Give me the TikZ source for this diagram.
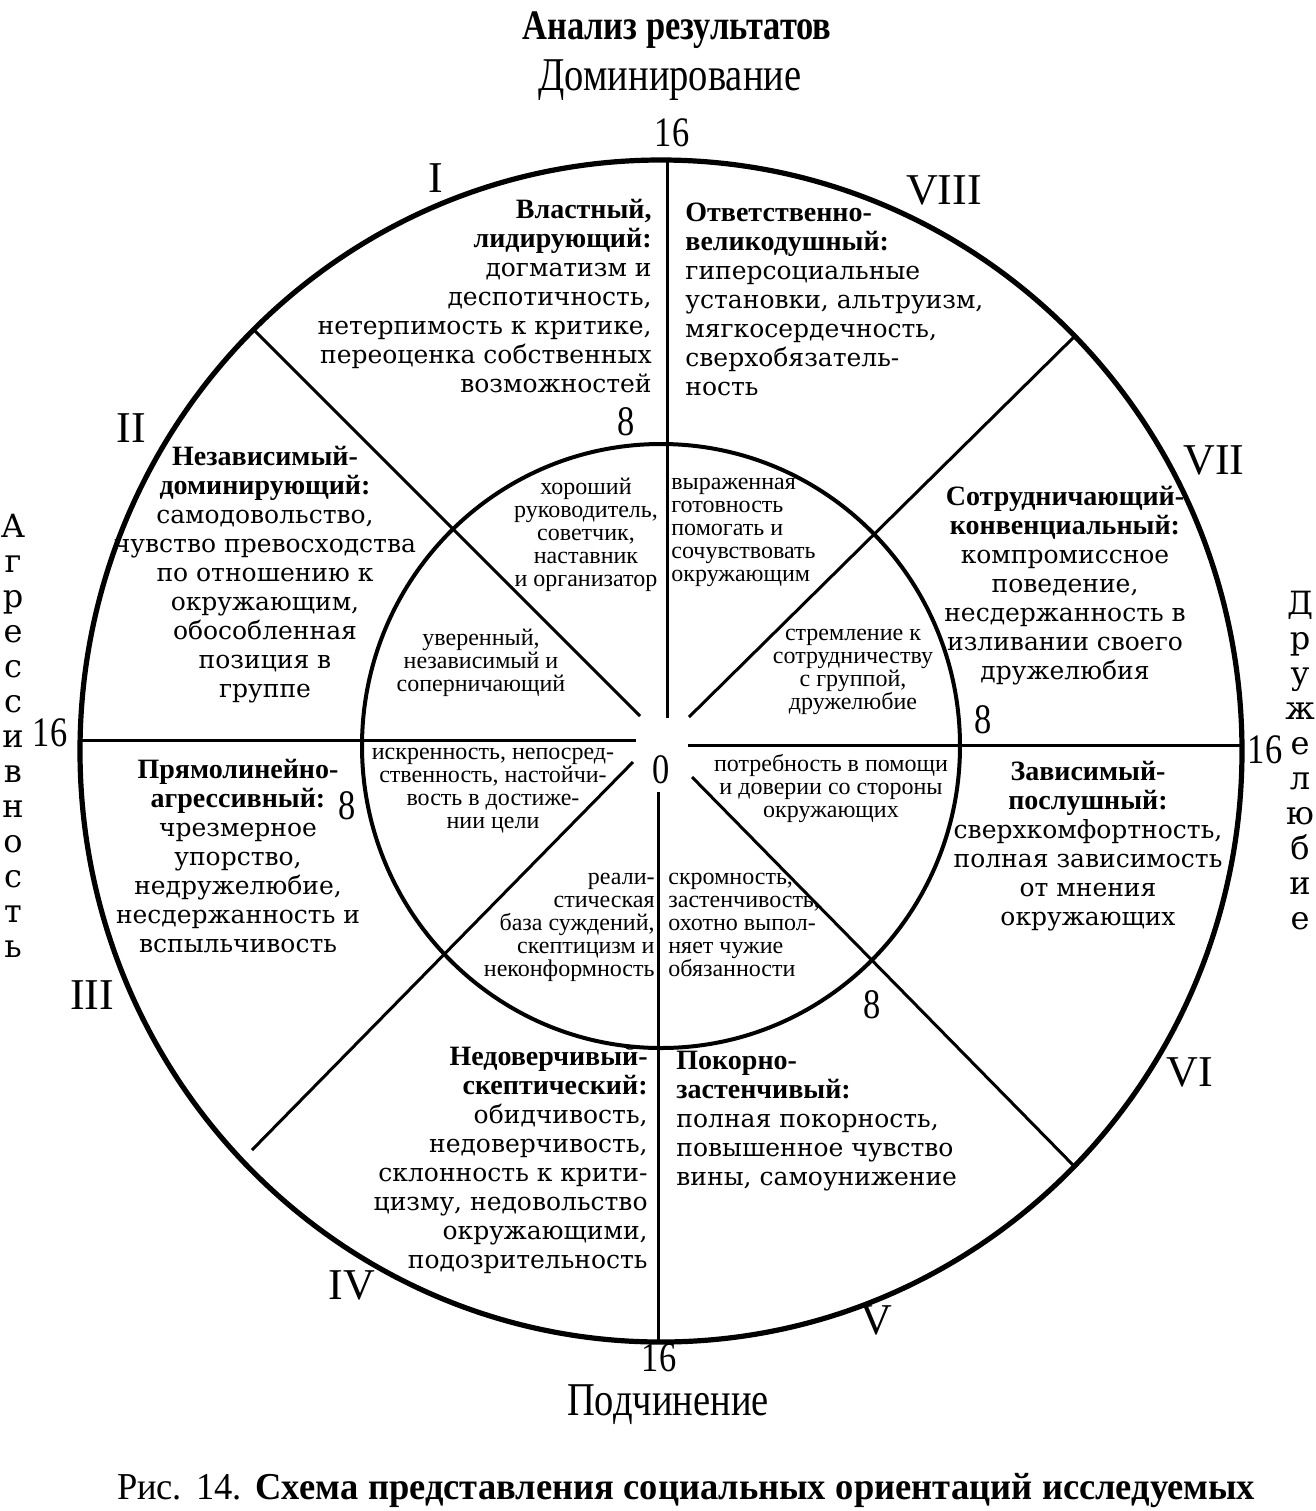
\documentclass[tikz,border=0pt]{standalone}
\usepackage{fontspec}
\setmainfont{Liberation Serif}
\newfontfamily\bodyfont{DejaVu Serif}
\newfontfamily\condfont[FakeStretch=0.82]{Liberation Serif}
\newfontfamily\capfont[FakeStretch=0.96]{Liberation Serif}
\usetikzlibrary{positioning}

\newcommand{\hd}[1]{{\rmfamily\bfseries\fontsize{14}{14.5}\selectfont #1}}

\tikzset{
  rim/.style={line width=2.6pt},
  ring/.style={line width=2pt},
  spoke/.style={line width=1.5pt},
  roman/.style={font=\fontsize{22}{22}\selectfont},
  scorelbl/.style={font=\condfont\fontsize{21}{21}\selectfont, inner sep=1pt},
  outertxt/.style={font=\bodyfont\fontsize{12.5}{14.5}\selectfont, inner sep=0pt},
  innertxt/.style={font=\fontsize{12}{11.5}\selectfont, inner sep=0pt},
  axisword/.style={font=\bodyfont\fontsize{16}{17.5}\selectfont, align=center, inner sep=0pt},
}

\begin{document}
\begin{tikzpicture}[x=0.5pt, y=-0.5pt]
\useasboundingbox (0,0) rectangle (1316,1511);

% titles
\node (title) at (677,30) [font=\condfont\bfseries\fontsize{21}{21}\selectfont] {Анализ результатов};
\node (dom) at (670,80) [font=\condfont\fontsize{23.5}{23.5}\selectfont, inner sep=1pt] {Доминирование};
\node (sub) at (668,1405) [font=\condfont\fontsize{23.5}{23.5}\selectfont, inner sep=0pt] {Подчинение};
\node (caption) at (686,1490) [font=\capfont\fontsize{19}{19}\selectfont]
  {\makebox[569pt][s]{Рис. 14. \bfseries Схема представления социальных ориентаций исследуемых}};

% circles
\draw [rim] (661,751) ellipse [x radius=581, y radius=591];
\draw [ring] (661,746) ellipse [x radius=299, y radius=302];

% spokes
\coordinate (nOut) at (667,160);  \coordinate (nIn) at (667,718);
\coordinate (sOut) at (658,1342); \coordinate (sIn) at (658,792);
\coordinate (wOut) at (80,740);   \coordinate (wIn) at (636,740);
\coordinate (eOut) at (1242,745); \coordinate (eIn) at (688,745);
\coordinate (nwOut) at (254,330); \coordinate (nwIn) at (640,716);
\coordinate (neOut) at (1076,335); \coordinate (neIn) at (689,717);
\coordinate (swOut) at (252,1150); \coordinate (swIn) at (633,762);
\coordinate (seOut) at (1074,1166); \coordinate (seIn) at (692,777);
\draw [spoke] (nIn) -- (nOut);
\draw [spoke] (sIn) -- (sOut);
\draw [spoke] (wIn) -- (wOut);
\draw [spoke] (eIn) -- (eOut);
\draw [spoke] (nwIn) -- (nwOut);
\draw [spoke] (neIn) -- (neOut);
\draw [spoke] (swIn) -- (swOut);
\draw [spoke] (seIn) -- (seOut);

% scale marks
\node (zero) at (661,770) [scorelbl] {0};
\node (topSixteen) at (672,133) [scorelbl] {16};
\node (leftSixteen) at (50,733) [scorelbl] {16};
\node (rightSixteen) at (1265,750) [scorelbl] {16};
\node (botSixteen) at (659,1358) [scorelbl, inner sep=0pt] {16};
\node (topEight) at (626,422) [scorelbl] {8};
\node (rightEight) at (983,720) [scorelbl] {8};
\node (leftEight) at (347,806) [scorelbl] {8};
\node (botEight) at (872,1005) [scorelbl] {8};

% octant numbers
\node (octI) at (436,178) [roman] {I};
\node (octII) at (131,428) [roman] {II};
\node (octIII) at (92,995) [roman] {III};
\node (octIV) at (352,1285) [roman] {IV};
\node (octV) at (876,1320) [roman] {V};
\node (octVI) at (1190,1072) [roman] {VI};
\node (octVII) at (1214,460) [roman] {VII};
\node (octVIII) at (944,190) [roman] {VIII};

% side axes
\node (aggr) at (13,736) [axisword] {А\\г\\р\\е\\с\\с\\и\\в\\н\\о\\с\\т\\ь};
\node (friend) at (1300,761) [axisword] {Д\\р\\у\\ж\\е\\л\\ю\\б\\и\\е};

% outer ring texts
\node (secI) at (652,199) [outertxt, anchor=north east, align=right]
  {\hd{Властный,}\\ \hd{лидирующий:}\\ догматизм и\\ деспотичность,\\ нетерпимость к критике,\\ переоценка собственных\\ возможностей};
\node (secVIII) at (685,203) [outertxt, anchor=north west, align=left]
  {\hd{Ответственно-}\\ \hd{великодушный:}\\ гиперсоциальные\\ установки, альтруизм,\\ мягкосердечность,\\ сверхобязатель-\\ ность};
\node (secII) at (265,446) [outertxt, anchor=north, align=center]
  {\hd{Независимый-}\\ \hd{доминирующий:}\\ самодовольство,\\ чувство превосходства\\ по отношению к\\ окружающим,\\ обособленная\\ позиция в\\ группе};
\node (secVII) at (1065,486) [outertxt, anchor=north, align=center]
  {\hd{Сотрудничающий-}\\ \hd{конвенциальный:}\\ компромиссное\\ поведение,\\ несдержанность в\\ изливании своего\\ дружелюбия};
\node (secIII) at (238,759) [outertxt, anchor=north, align=center]
  {\hd{Прямолинейно-}\\ \hd{агрессивный:}\\ чрезмерное\\ упорство,\\ недружелюбие,\\ несдержанность и\\ вспыльчивость};
\node (secVI) at (1088,761) [outertxt, anchor=north, align=center]
  {\hd{Зависимый-}\\ \hd{послушный:}\\ сверхкомфортность,\\ полная зависимость\\ от мнения\\ окружающих};
\node (secIV) at (648,1046) [outertxt, anchor=north east, align=right]
  {\hd{Недоверчивый-}\\ \hd{скептический:}\\ обидчивость,\\ недоверчивость,\\ склонность к крити-\\ цизму, недовольство\\ окружающими,\\ подозрительность};
\node (secV) at (676,1051) [outertxt, anchor=north west, align=left]
  {\hd{Покорно-}\\ \hd{застенчивый:}\\ полная покорность,\\ повышенное чувство\\ вины, самоунижение};

% inner ring texts
\node (inI) at (586,478) [innertxt, anchor=north, align=center]
  {хороший\\ руководитель,\\ советчик,\\ наставник\\ и организатор};
\node (inVIII) at (671,478) [innertxt, anchor=north west, align=left]
  {выраженная\\ готовность\\ помогать и\\ сочувствовать\\ окружающим};
\node (inII) at (481,629) [innertxt, anchor=north, align=center]
  {уверенный,\\ независимый и\\ соперничающий};
\node (inVII) at (853,629) [innertxt, anchor=north, align=center]
  {стремление к\\ сотрудничеству\\ с группой,\\ дружелюбие};
\node (inIII) at (493,748) [innertxt, anchor=north, align=center]
  {искренность, непосред-\\ ственность, настойчи-\\ вость в достиже-\\ нии цели};
\node (inVI) at (831,754) [innertxt, anchor=north, align=center]
  {потребность в помощи\\ и доверии со стороны\\ окружающих};
\node (inIV) at (655,873) [innertxt, anchor=north east, align=right]
  {реали-\\ стическая\\ база суждений,\\ скептицизм и\\ неконформность};
\node (inV) at (668,873) [innertxt, anchor=north west, align=left]
  {скромность,\\ застенчивость,\\ охотно выпол-\\ няет чужие\\ обязанности};
\end{tikzpicture}
\end{document}
